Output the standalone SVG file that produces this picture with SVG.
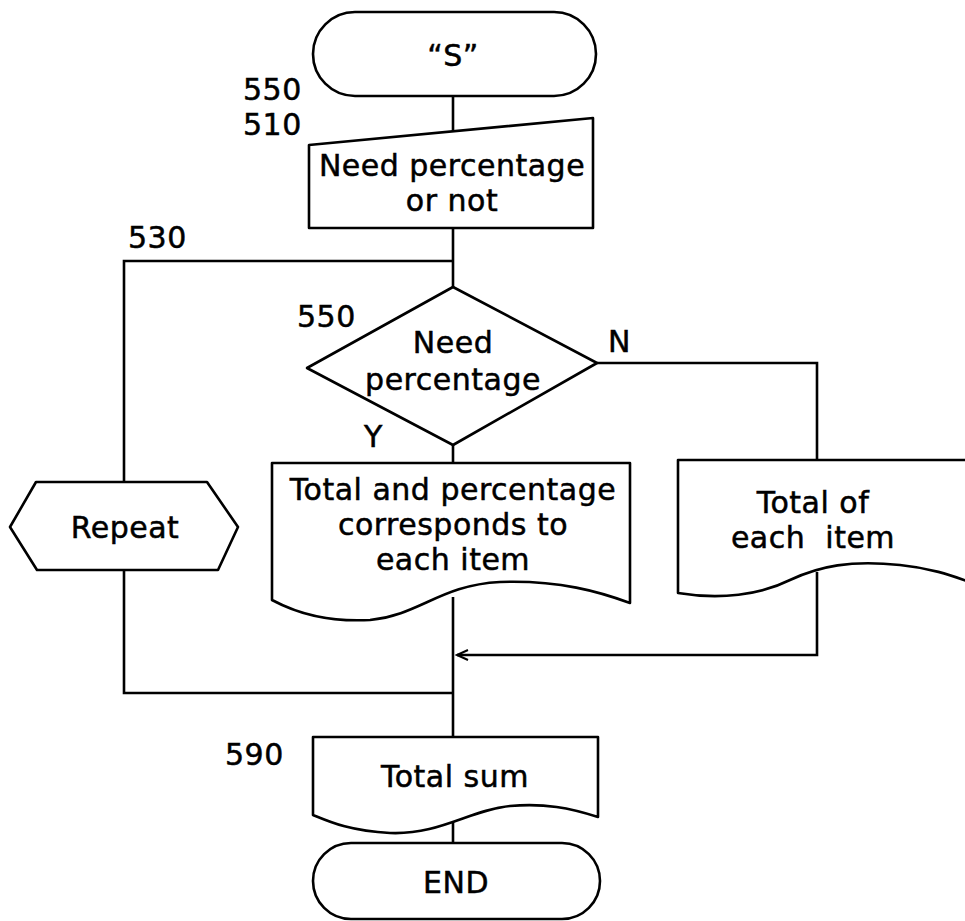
<svg xmlns="http://www.w3.org/2000/svg" width="965" height="921" viewBox="0 0 965 921">
<style>
.s{fill:#fff;stroke:#000;stroke-width:2.6;stroke-linejoin:round}
.c{fill:none;stroke:#000;stroke-width:2.6}
text{font-family:"DejaVu Sans","Liberation Sans",sans-serif;font-size:30px;fill:#000;stroke:#000;stroke-width:0.5;letter-spacing:0.5px}
.m{text-anchor:middle}
</style>
<defs>
<marker id="ah" markerWidth="14" markerHeight="12" refX="12" refY="6" orient="auto" markerUnits="userSpaceOnUse">
<path d="M1,1 L12,6 L1,11" fill="none" stroke="#000" stroke-width="2"/>
</marker>
</defs>
<g id="connectors">
<path class="c" d="M453,96 V132"/>
<path class="c" d="M453,228 V287"/>
<path class="c" d="M453,261 H124 V482"/>
<path class="c" d="M124,570 V693 H453"/>
<path class="c" d="M453,445 V463"/>
<path class="c" d="M597,363 H817 V460"/>
<path class="c" d="M453,597 V737"/>
<path class="c" d="M817,572 V655 H457" marker-end="url(#ah)"/>
<path class="c" d="M453,820 V843"/>
</g>
<g id="start">
<rect class="s" x="313" y="12" width="283" height="84" rx="42"/>
<text class="m" x="453" y="66">“S”</text>
</g>
<g id="labels">
<text x="243" y="100">550</text>
<text x="243" y="135">510</text>
<text x="128" y="248">530</text>
<text x="297" y="327">550</text>
<text x="364" y="447">Y</text>
<text x="608" y="352">N</text>
<text x="225" y="765">590</text>
</g>
<g id="n510">
<polygon class="s" points="309,145 593,118 593,228 309,228"/>
<text class="m" x="452" y="176">Need percentage</text>
<text class="m" x="452" y="211">or not</text>
</g>
<g id="decision">
<polygon class="s" points="453,287 597,363 453,445 307,368"/>
<text class="m" x="453" y="353">Need</text>
<text class="m" x="453" y="390">percentage</text>
</g>
<g id="repeat">
<polygon class="s" points="10,527 36,482 207,482 238,527 218,570 37,570"/>
<text class="m" x="125" y="538">Repeat</text>
</g>
<g id="yes">
<path class="s" d="M272,463 H630 V603 C600,592 560,580 500,582 C440,585 420,615 370,620 C330,622 300,615 272,600 Z"/>
<text class="m" x="453" y="500">Total and percentage</text>
<text class="m" x="453" y="535">corresponds to</text>
<text class="m" x="453" y="570">each item</text>
</g>
<g id="no">
<path class="s" d="M967,460 H678 V593 C720,600 760,595 790,580 C820,566 850,560 900,565 C930,568 950,575 967,581"/>
<text class="m" x="813" y="513">Total of</text>
<text class="m" x="813" y="548" xml:space="preserve">each  item</text>
</g>
<g id="n590">
<path class="s" d="M313,737 H598 V817 C570,808 545,803 510,806 C470,810 440,835 390,833 C350,831 330,822 313,815 Z"/>
<text class="m" x="455" y="787">Total sum</text>
</g>
<g id="end">
<rect class="s" x="313" y="843" width="287" height="76" rx="38"/>
<text class="m" x="456" y="893">END</text>
</g>
</svg>
